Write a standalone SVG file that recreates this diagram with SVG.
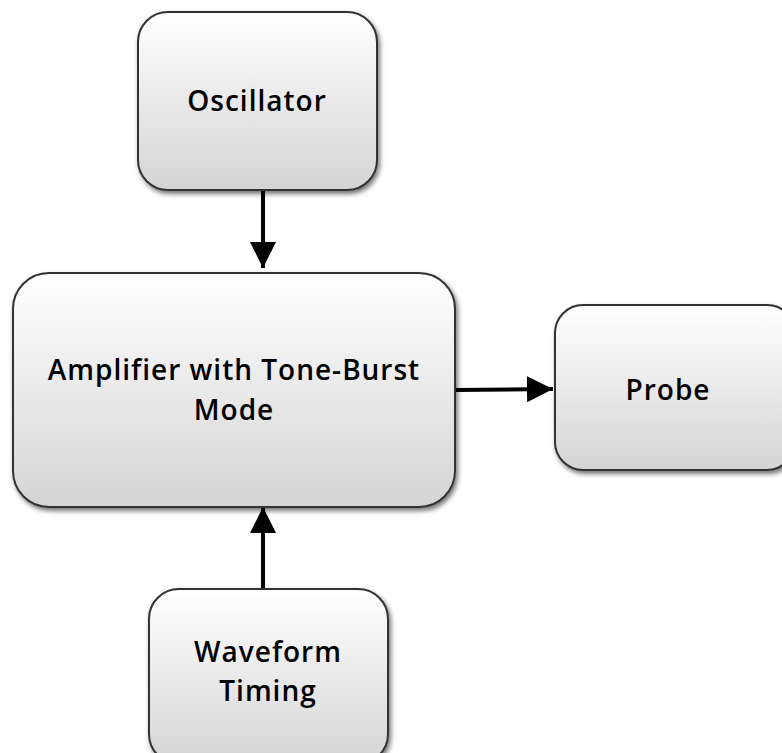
<svg xmlns="http://www.w3.org/2000/svg" width="782" height="753" viewBox="0 0 782 753">
  <defs>
    <linearGradient id="boxFill" x1="0" y1="0" x2="0" y2="1">
      <stop offset="0" stop-color="#ffffff"/>
      <stop offset="1" stop-color="#d4d4d4"/>
    </linearGradient>
    <filter id="shadow" x="-10%" y="-10%" width="125%" height="125%">
      <feGaussianBlur in="SourceAlpha" stdDeviation="2.5"/>
      <feOffset dx="2" dy="3" result="b"/>
      <feComponentTransfer><feFuncA type="linear" slope="0.55"/></feComponentTransfer>
      <feMerge><feMergeNode/><feMergeNode in="SourceGraphic"/></feMerge>
    </filter>
    <marker id="head" viewBox="0 0 10 10" refX="10" refY="5" markerWidth="6.5" markerHeight="6.5" markerUnits="strokeWidth" orient="auto">
      <path d="M0,0 L10,5 L0,10 Z" fill="#000"/>
    </marker>
    <style>
      .box { fill: url(#boxFill); stroke: #333333; stroke-width: 2; filter: url(#shadow); }
      .lbl { font-family: "Open Sans", "Noto Sans", sans-serif; font-weight: 600; font-size: 28px; letter-spacing: 1px; fill: #000; text-anchor: middle; }
      .wire { stroke: #000; stroke-width: 4; fill: none; marker-end: url(#head); }
    </style>
  </defs>
  <rect width="782" height="753" fill="#ffffff"/>

  <g id="connectors">
    <line class="wire" x1="263" y1="190" x2="263" y2="268"/>
    <line class="wire" x1="455" y1="390" x2="553" y2="389"/>
    <line class="wire" x1="263" y1="589" x2="263" y2="507"/>
  </g>

  <g id="oscillator">
    <rect class="box" x="138" y="12" width="239" height="178" rx="30"/>
    <text class="lbl" x="257" y="111">Oscillator</text>
  </g>

  <g id="amplifier">
    <rect class="box" x="13" y="273" width="442" height="234" rx="36"/>
    <text class="lbl" x="234" y="380">Amplifier with Tone-Burst</text>
    <text class="lbl" x="234" y="420">Mode</text>
  </g>

  <g id="probe">
    <rect class="box" x="555" y="305" width="240" height="165" rx="28"/>
    <text class="lbl" x="668" y="400">Probe</text>
  </g>

  <g id="waveform-timing">
    <rect class="box" x="149" y="589" width="239" height="175" rx="30"/>
    <text class="lbl" x="268" y="662">Waveform</text>
    <text class="lbl" x="268" y="701">Timing</text>
  </g>
</svg>
